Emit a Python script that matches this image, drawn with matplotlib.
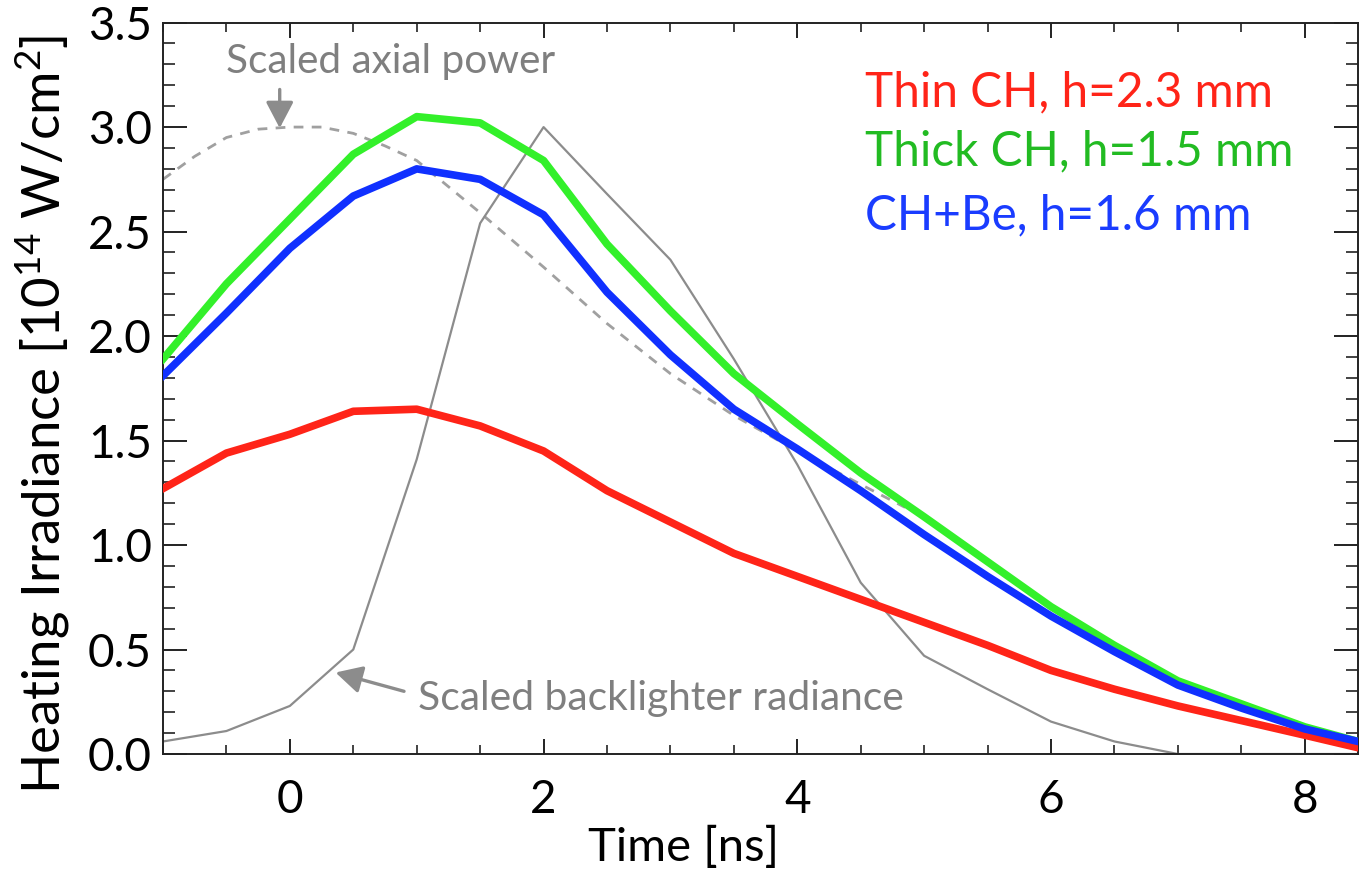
import matplotlib
matplotlib.use("Agg")
import matplotlib.pyplot as plt
from matplotlib.ticker import MultipleLocator

plt.rcParams['font.family'] = ['Lato', 'DejaVu Sans']
plt.rcParams['mathtext.fontset'] = 'custom'
plt.rcParams['mathtext.rm'] = 'Lato'
plt.rcParams['mathtext.it'] = 'Lato:italic'
plt.rcParams['mathtext.bf'] = 'Lato:bold'

# ---- data ----
t = [-1.0, -0.5, 0.0, 0.5, 1.0, 1.5, 2.0, 2.5, 3.0, 3.5, 4.0, 4.5, 5.0, 5.5, 6.0, 6.5, 7.0, 7.5, 8.0, 8.42]
thin_ch = [1.27, 1.44, 1.53, 1.64, 1.65, 1.57, 1.45, 1.26, 1.11, 0.96, 0.85, 0.74, 0.63, 0.52, 0.40, 0.31, 0.23, 0.16, 0.09, 0.03]
thick_ch = [1.89, 2.25, 2.56, 2.87, 3.05, 3.02, 2.84, 2.44, 2.12, 1.82, 1.58, 1.345, 1.135, 0.92, 0.705, 0.52, 0.35, 0.24, 0.13, 0.06]
ch_be = [1.81, 2.11, 2.42, 2.67, 2.80, 2.75, 2.58, 2.21, 1.91, 1.65, 1.46, 1.26, 1.05, 0.85, 0.66, 0.49, 0.33, 0.22, 0.12, 0.06]
backlighter = [0.06, 0.11, 0.23, 0.50, 1.41, 2.54, 3.00, 2.68, 2.365, 1.89, 1.385, 0.82, 0.47, 0.31, 0.155, 0.06, 0.0, 0.0, 0.0, 0.0]

t_axial = [-1.0, -0.75, -0.5, -0.25, 0.0, 0.25, 0.5, 0.75, 1.0, 1.5, 2.0, 2.5, 3.0, 3.5, 4.0, 4.5, 4.85]
axial = [2.75, 2.86, 2.95, 2.99, 3.0, 3.0, 2.97, 2.91, 2.84, 2.59, 2.33, 2.06, 1.82, 1.62, 1.45, 1.29, 1.18]

labels = ["Thin CH, h=2.3 mm", "Thick CH, h=1.5 mm", "CH+Be, h=1.6 mm"]
line_colors = ["#FF2418", "#33F02A", "#1030FF"]
text_colors = ["#FF2418", "#22BB22", "#1A3CFF"]

fig = plt.figure(figsize=(13.59, 8.72), dpi=100)
ax = fig.add_axes([163/1359, 1 - 754/872, (1358 - 163)/1359, (754 - 22.6)/872])

ax.plot(t_axial, axial, color="#A0A0A0", lw=2.0, dashes=(3.5, 3), zorder=2)
ax.plot(t, backlighter, color="#8C8C8C", lw=1.6, zorder=2)
ax.plot(t, thin_ch, color=line_colors[0], lw=5.5, zorder=3)
ax.plot(t, ch_be, color=line_colors[2], lw=5.5, zorder=3)
ax.plot(t, thick_ch, color=line_colors[1], lw=5.5, zorder=2.9)

ax.set_xlim(-1, 8.42)
ax.set_ylim(0, 3.5)
ax.xaxis.set_major_locator(MultipleLocator(2))
ax.xaxis.set_minor_locator(MultipleLocator(0.5))
ax.yaxis.set_major_locator(MultipleLocator(0.5))
ax.yaxis.set_minor_locator(MultipleLocator(0.1))
ax.yaxis.set_major_formatter(matplotlib.ticker.FormatStrFormatter('%.1f'))

for s in ax.spines.values():
    s.set_linewidth(1.4)
    s.set_color("#222222")

ax.tick_params(axis='x', which='major', direction='in', length=10.8, width=1.4,
               top=True, labelsize=33, pad=18, colors="#222222", labelcolor='black')
ax.tick_params(axis='x', which='minor', direction='in', length=6.5, width=1.2, top=True, colors="#222222")
ax.tick_params(axis='y', which='major', direction='in', length=17, width=1.4,
               right=True, labelsize=33, pad=8, colors="#222222", labelcolor='black')
ax.tick_params(axis='y', which='minor', direction='in', length=8.6, width=1.2, right=True, colors="#222222")

ax.set_xlabel("Time [ns]", fontsize=34)
ax.xaxis.set_label_coords((684 - 163) / 1195, -0.098)
ax.set_ylabel(r"Heating Irradiance [10$^{14}$ W/cm$^{2}$]", fontsize=38)
ax.yaxis.set_label_coords(-0.076, 0.465)

ys = [3.10, 2.815, 2.51]
for lab, c, y in zip(labels, text_colors, ys):
    ax.text(4.535, y, lab, color=c, fontsize=34.3, ha='left', va='baseline')

gray_txt = "#7F7F7F"
ax.text(-0.507, 3.26, "Scaled axial power", color=gray_txt, fontsize=29.2, ha='left', va='baseline')
ax.text(1.013, 0.21, "Scaled backlighter radiance", color=gray_txt, fontsize=29.3, ha='left', va='baseline')

arrow_kw = dict(arrowstyle='-|>,head_length=0.8,head_width=0.42', color="#8C8C8C", lw=2.4,
                shrinkA=0, shrinkB=0, mutation_scale=20)
ax.annotate("", xy=(-0.08, 2.995), xytext=(-0.08, 3.18), arrowprops=arrow_kw)
ax.annotate("", xy=(0.36, 0.39), xytext=(0.90, 0.30), arrowprops=arrow_kw)

fig.savefig("out.png", dpi=100)
